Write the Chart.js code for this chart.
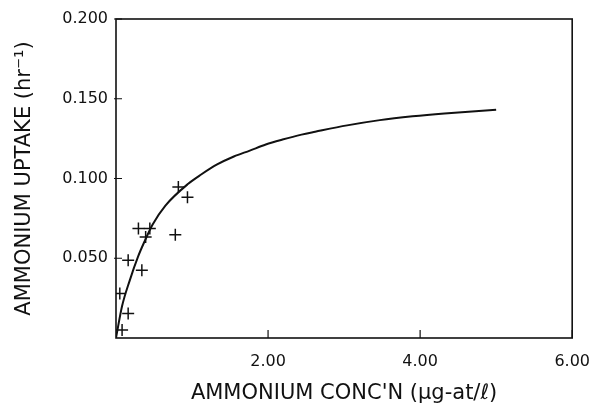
<!DOCTYPE html>
<html>
<head>
<meta charset="utf-8">
<script src="https://cdn.jsdelivr.net/npm/chart.js@4/dist/chart.umd.min.js"></script>
<style>
  html, body { margin: 0; padding: 0; background: #fff; }
  #wrap { width: 604px; height: 409px; }
</style>
</head>
<body>
<div id="wrap"><canvas id="uptakeChart"></canvas></div>
<script>
// observed uptake (crosses)
const concPoints = [0.82, 0.94, 0.295, 0.445, 0.39, 0.78, 0.16, 0.34, 0.05, 0.16, 0.08];
const uptakePoints = [0.0946, 0.0883, 0.0686, 0.0686, 0.0633, 0.0648, 0.0488, 0.0425, 0.0279, 0.0154, 0.005];

// fitted curve
const curveConc = [0, 0.08, 0.18, 0.29, 0.38, 0.48, 0.65, 0.95, 1.12, 1.33, 1.55, 1.76, 1.97, 2.19, 2.44, 2.62, 3.04, 3.47, 3.9, 4.32, 5.0];
const curveUptake = [0, 0.020, 0.036, 0.051, 0.061, 0.071, 0.083, 0.0967, 0.1025, 0.1088, 0.1138, 0.1175, 0.1213, 0.1244, 0.1275, 0.1293, 0.1333, 0.1366, 0.139, 0.1408, 0.1431];

const xTicks = [2, 4, 6];
const yTicks = [0.05, 0.1, 0.15, 0.2];

const ink = '#111';
const tickFont = { family: 'DejaVu Sans', size: 16 };
const titleFont = { family: 'DejaVu Sans', size: 21 };

// frame plus inward tick marks
const framePlugin = {
    id: 'frame',
    afterDraw(chart) {
        const { ctx, chartArea: a, scales } = chart;
        ctx.save();
        ctx.strokeStyle = ink;
        ctx.lineWidth = 1.6;
        ctx.strokeRect(a.left, a.top, a.right - a.left, a.bottom - a.top);
        ctx.lineWidth = 1.2;
        ctx.beginPath();
        xTicks.forEach(v => {
            const px = scales.x.getPixelForValue(v);
            ctx.moveTo(px, a.bottom);
            ctx.lineTo(px, a.bottom - 8);
        });
        yTicks.forEach(v => {
            const py = scales.y.getPixelForValue(v);
            ctx.moveTo(a.left - 2, py);
            ctx.lineTo(a.left + 6, py);
        });
        ctx.stroke();
        ctx.restore();
    }
};

new Chart(document.getElementById('uptakeChart'), {
    type: 'scatter',
    data: {
        datasets: [{
            label: 'Fit',
            data: curveConc.map((c, i) => ({ x: c, y: curveUptake[i] })),
            showLine: true,
            borderColor: ink,
            borderWidth: 2,
            pointRadius: 0,
            cubicInterpolationMode: 'monotone'
        }, {
            label: 'Observed',
            data: concPoints.map((c, i) => ({ x: c, y: uptakePoints[i] })),
            pointStyle: 'cross',
            pointRadius: 6,
            pointBorderWidth: 1.5,
            pointBorderColor: ink,
            pointBackgroundColor: ink
        }]
    },
    options: {
        responsive: true,
        maintainAspectRatio: false,
        animation: false,
        layout: { padding: { top: 19, right: 18, left: 0, bottom: 0 } },
        plugins: {
            legend: { display: false },
            tooltip: { enabled: false }
        },
        scales: {
            x: {
                type: 'linear',
                min: 0,
                max: 6,
                afterBuildTicks: (scale) => { scale.ticks = xTicks.map(v => ({ value: v })); },
                afterFit: (scale) => { scale.height = 71; },
                grid: { display: false, drawTicks: false },
                border: { display: false },
                ticks: {
                    color: ink,
                    font: tickFont,
                    padding: 14,
                    maxRotation: 0,
                    callback: (value) => value.toFixed(2)
                },
                title: {
                    display: true,
                    text: "AMMONIUM CONC'N (μg-at/ℓ)",
                    color: ink,
                    font: titleFont,
                    padding: { top: 0, bottom: 3 }
                }
            },
            y: {
                type: 'linear',
                min: 0,
                max: 0.2,
                afterBuildTicks: (scale) => { scale.ticks = yTicks.map(v => ({ value: v })); },
                afterFit: (scale) => { scale.width = 116; },
                grid: { display: false, drawTicks: false },
                border: { display: false },
                ticks: {
                    color: ink,
                    font: tickFont,
                    padding: 8,
                    callback: (value) => value.toFixed(3)
                },
                title: {
                    display: true,
                    text: 'AMMONIUM UPTAKE (hr⁻¹)',
                    color: ink,
                    font: titleFont,
                    padding: { top: 12, bottom: 0 }
                }
            }
        }
    },
    plugins: [framePlugin]
});
</script>
</body>
</html>
